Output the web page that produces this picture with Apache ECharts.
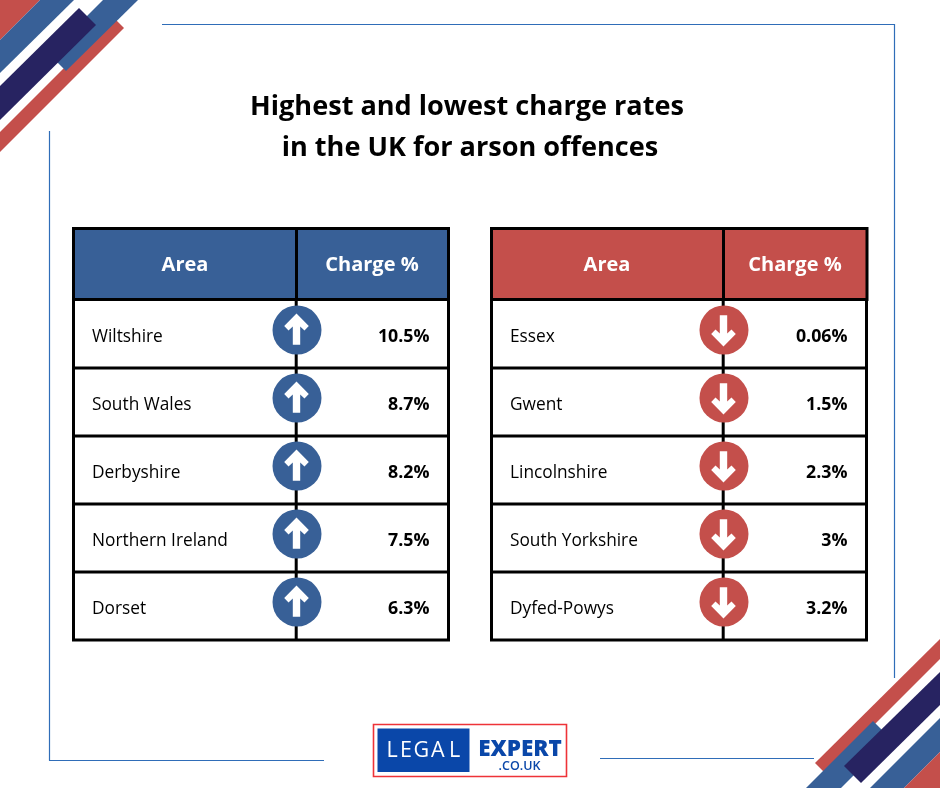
<!DOCTYPE html>
<html><head><meta charset="utf-8">
<style>html,body{margin:0;padding:0;background:#fff}#c{width:940px;height:788px}</style>
<script src="https://cdn.jsdelivr.net/npm/echarts@6/dist/echarts.min.js"></script>
</head><body><div id="c"></div>
<script>
const titleLines = ['Highest and lowest charge rates', 'in the UK for arson offences'];
const headers = ['Area', 'Charge %'];
const highAreas = ['Wiltshire', 'South Wales', 'Derbyshire', 'Northern Ireland', 'Dorset'];
const highRates = [10.5, 8.7, 8.2, 7.5, 6.3];
const lowAreas = ['Essex', 'Gwent', 'Lincolnshire', 'South Yorkshire', 'Dyfed-Powys'];
const lowRates = [0.06, 1.5, 2.3, 3, 3.2];

const BLUE = '#386097', RED = '#C44F4B', NAVY = '#272361', INK = '#000', THIN = '#2F6DB8';
const FONT = '"Open Sans", sans-serif';
const chart = echarts.init(document.getElementById('c'), null, {renderer: 'canvas'});

const poly = (points, fill, z) => ({type: 'polygon', z: z || 1, shape: {points}, style: {fill}});
const ln = (x1, y1, x2, y2) => ({type: 'line', z: 1, shape: {x1, y1, x2, y2}, style: {stroke: THIN, lineWidth: 1.2}});
const hdrText = (text, x) => ({type: 'text', z: 5, x, y: 265.5, style: {text, fill: '#fff', font: '700 20px ' + FONT, textAlign: 'center', textVerticalAlign: 'middle'}});
const logoLetter = (text, x) => ({type: 'text', z: 4, x, y: 750.5, style: {text, fill: '#fff', font: '400 21.5px ' + FONT, textAlign: 'left', textVerticalAlign: 'middle'}});

function headerBlock(x0, x1, xm, colour, cx1, cx2) {
  return [
    {type: 'rect', z: 3, shape: {x: x0, y: 228.5, width: x1 - x0, height: 71}, style: {fill: colour, stroke: INK, lineWidth: 3}},
    {type: 'line', z: 4, shape: {x1: xm, y1: 228.5, x2: xm, y2: 299.5}, style: {stroke: INK, lineWidth: 3}},
    hdrText(headers[0], cx1), hdrText(headers[1], cx2)
  ];
}

const decor = [
  // top-left corner
  poly([[0,0],[40,0],[0,40]], RED),
  poly([[40,0],[74,0],[0,73],[0,40]], BLUE),
  poly([[114,18],[124,28],[0,152],[0,132]], RED),
  poly([[103,0],[138,0],[66,71],[49,54]], BLUE),
  poly([[79,8],[96,25],[0,120],[0,86]], NAVY),
  // bottom-right corner
  poly([[940,639],[940,659],[825.5,773.5],[815,763]], RED),
  poly([[940,718],[940,752],[904,788],[870,788]], BLUE),
  poly([[904,788],[940,752],[940,788]], RED),
  poly([[873,721],[890.5,738.5],[841,788],[806,788]], BLUE),
  poly([[940,672],[940,705],[861,783],[844,766]], NAVY),
  // thin frame
  ln(162,24.5,894.5,24.5), ln(894.5,24,894.5,678),
  ln(49.5,131,49.5,760.5), ln(49,760.5,324,760.5), ln(600,758.5,814,758.5),
  // logo
  {type: 'rect', z: 2, shape: {x: 373.5, y: 724.5, width: 193, height: 52}, style: {fill: '#fff', stroke: '#EE3338', lineWidth: 1.6}},
  {type: 'rect', z: 3, shape: {x: 377.5, y: 728.5, width: 92, height: 43.5}, style: {fill: '#0A47A9'}},
  logoLetter('L', 386.5), logoLetter('E', 400), logoLetter('G', 413.5), logoLetter('A', 431), logoLetter('L', 449),
  {type: 'text', z: 4, x: 520, y: 750, style: {text: 'EXPERT', fill: '#0A47A9', font: '800 22.5px ' + FONT, textAlign: 'center', textVerticalAlign: 'middle'}},
  {type: 'text', z: 4, x: 519.5, y: 766, style: {text: '.CO.UK', fill: '#0A47A9', font: '600 12.5px ' + FONT, textAlign: 'center', textVerticalAlign: 'middle'}},
  ...headerBlock(73.5, 448.5, 296.5, BLUE, 185, 372),
  ...headerBlock(491.5, 867, 723.5, RED, 607, 795)
];

const WIDTH = 375.5;
function rowRenderer(areas, colX, colour, dir) {
  const upArrow = [[0,-16.5],[12.3,-4],[8,0.5],[3.7,-3.5],[3.7,14.8],[-3.7,14.8],[-3.7,-3.5],[-8,0.5],[-12.3,-4]];
  const arrow = dir === 'up' ? upArrow : upArrow.map(p => [p[0], -p[1]]);
  return function (params, api) {
    const idx = api.value(0);
    const yc = api.coord([0, idx])[1];
    const h = api.size([0, 1])[1];
    const top = yc - h / 2, bot = yc + h / 2;
    const x0 = api.coord([0, idx])[0];
    const x1 = api.coord([WIDTH, idx])[0];
    const xm = api.coord([colX, idx])[0];
    const cy = yc - 4;
    const lineStyle = {stroke: INK, lineWidth: 3};
    const L = (a, b, c, d) => ({type: 'line', shape: {x1: a, y1: b, x2: c, y2: d}, style: lineStyle});
    return {type: 'group', children: [
      L(x0, top, x0, bot), L(x1, top, x1, bot), L(xm, top, xm, bot), L(x0 - 1.5, bot, x1 + 1.5, bot),
      {type: 'circle', shape: {cx: xm + 0.8, cy, r: 24.5}, style: {fill: colour}},
      {type: 'polygon', shape: {points: arrow.map(p => [xm + 0.3 + p[0], cy + p[1]])}, style: {fill: '#fff'}},
      {type: 'text', x: x0 + 18.5, y: yc + 3, style: {text: areas[idx], fill: INK, font: '400 17.3px ' + FONT, textAlign: 'left', textVerticalAlign: 'middle'}},
      {type: 'text', x: x1 - 19, y: yc + 2.5, style: {text: api.value(1) + '%', fill: INK, font: '700 17.8px ' + FONT, textAlign: 'right', textVerticalAlign: 'middle'}}
    ]};
  };
}

chart.setOption({
  animation: false,
  backgroundColor: '#fff',
  title: [
    {text: titleLines[0], left: 462, top: 89, textAlign: 'center', textStyle: {fontFamily: 'Open Sans', fontWeight: 700, fontSize: 27.1, color: INK}},
    {text: titleLines[1], left: 465, top: 130, textAlign: 'center', textStyle: {fontFamily: 'Open Sans', fontWeight: 700, fontSize: 27.1, color: INK}}
  ],
  grid: [
    {left: 73.5, top: 300, width: WIDTH - 0.5, height: 340},
    {left: 491.5, top: 300, width: WIDTH - 0.5, height: 340}
  ],
  xAxis: [
    {gridIndex: 0, type: 'value', min: 0, max: WIDTH, show: false},
    {gridIndex: 1, type: 'value', min: 0, max: WIDTH, show: false}
  ],
  yAxis: [
    {gridIndex: 0, type: 'category', inverse: true, data: highAreas, show: false},
    {gridIndex: 1, type: 'category', inverse: true, data: lowAreas, show: false}
  ],
  graphic: {elements: decor},
  series: [
    {type: 'custom', xAxisIndex: 0, yAxisIndex: 0, encode: {y: 0}, data: highRates.map((v, i) => [i, v]), renderItem: rowRenderer(highAreas, 223, BLUE, 'up'), clip: false},
    {type: 'custom', xAxisIndex: 1, yAxisIndex: 1, encode: {y: 0}, data: lowRates.map((v, i) => [i, v]), renderItem: rowRenderer(lowAreas, 232, RED, 'down'), clip: false}
  ]
});
</script></body></html>
